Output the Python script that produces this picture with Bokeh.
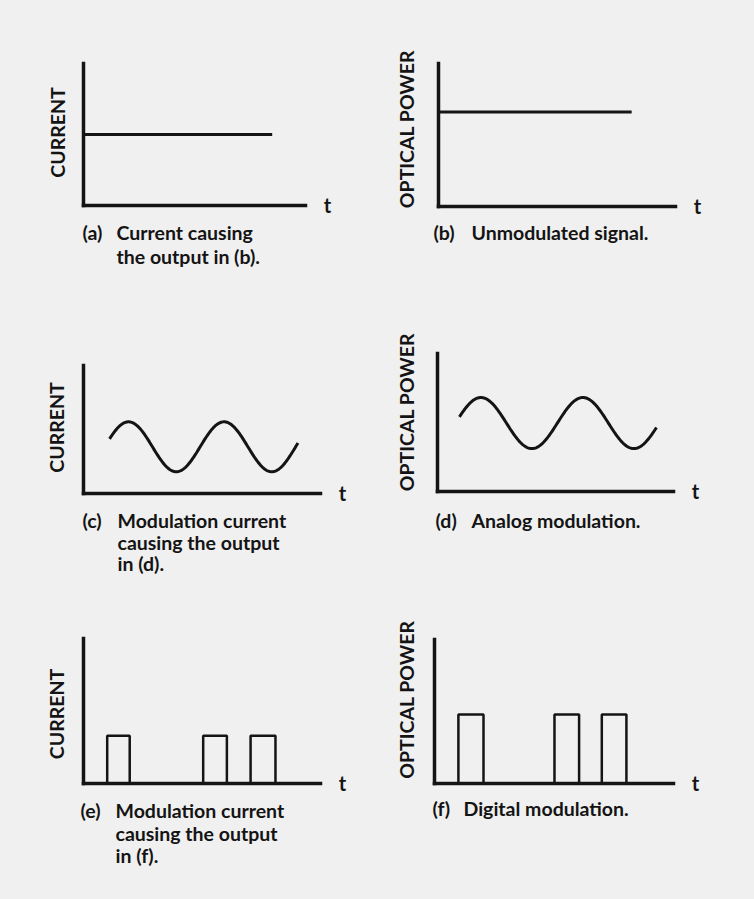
import numpy as np
from bokeh.plotting import figure
from bokeh.models import Range1d, Label
from bokeh.layouts import column, row
from bokeh.embed import file_html
from bokeh.resources import INLINE

# ---------------- data (every axis spans 0..10) ----------------
t_range = [0, 10]
level_range = [0, 10]

# (a) steady drive current, (b) unmodulated optical power
dc_current_t = [0.0, 8.5]
dc_current_level = [5.0, 5.0]
cw_power_t = [0.0, 8.15]
cw_power_level = [6.6, 6.6]

sine_c_offset, sine_c_amplitude, sine_c_period, sine_c_first_peak = 3.65, 1.95, 4.03, 1.9
sine_c_span = [1.1, 9.05]
sine_d_offset, sine_d_amplitude, sine_d_period, sine_d_first_peak = 4.96, 1.85, 4.32, 1.84
sine_d_span = [0.93, 9.28]

# (e) current pulses, (f) optical pulses
pulse_e_start = [1.0, 5.05, 7.05]
pulse_e_end = [1.95, 6.05, 8.1]
pulse_e_level = 3.3
pulse_f_start = [1.0, 5.02, 7.0]
pulse_f_end = [2.05, 6.05, 8.03]
pulse_f_level = 4.8

y_titles = ["CURRENT", "OPTICAL POWER", "CURRENT", "OPTICAL POWER", "CURRENT", "OPTICAL POWER"]
tags = ["(a)", "(b)", "(c)", "(d)", "(e)", "(f)"]
captions = [
    ["Current causing", "the output in (b)."],
    ["Unmodulated signal."],
    ["Modulation current", "causing the output", "in (d)."],
    ["Analog modulation."],
    ["Modulation current", "causing the output", "in (f)."],
    ["Digital modulation."],
]

# ---------------- styling / layout ----------------
BG = "#f0f0f0"
INK = "#141414"
FONT = "Lato"

# (left, frame_w, right, top, frame_h, bottom) in px
geom = [
    (83, 222, 72, 63, 142, 95),
    (61, 237, 79, 63, 143, 94),
    (83, 237, 57, 65, 128, 97),
    (60, 236, 81, 53, 138, 99),
    (83, 237, 57, 48, 145, 116),
    (57, 239, 81, 49, 144, 116),
]
# y-title: (x offset from axis, centre level)
ytitle_pos = [(-26, 5.14), (-32, 5.42), (-27, 5.16), (-31, 5.76), (-27, 4.79), (-28, 5.83)]
# caption: tag x offset, text x offset, line y offsets
cap_pos = [
    (-1, 33, [-27, -51]),
    (-5, 33, [-26]),
    (-1, 34, [-27, -49, -70]),
    (-2, 34, [-29]),
    (-3, 32, [-27, -50, -72]),
    (-2, 29, [-25]),
]


def txt(p, x, y, text, dx=0, dy=0, size="19.5px", angle=0.0, align="left"):
    p.add_layout(Label(x=x, y=y, x_offset=dx, y_offset=dy, text=text, angle=angle,
                       text_align=align, text_baseline="middle",
                       text_font=FONT, text_font_style="bold",
                       text_font_size=size, text_color=INK))


def make_panel(i):
    l, fw, r, t, fh, b = geom[i]
    sx = fw / (t_range[1] - t_range[0])
    sy = fh / (level_range[1] - level_range[0])
    p = figure(width=l + fw + r, height=t + fh + b,
               x_range=Range1d(t_range[0] - l / sx, t_range[1] + r / sx),
               y_range=Range1d(level_range[0] - b / sy, level_range[1] + t / sy),
               x_axis_type=None, y_axis_type=None,
               output_backend="svg", toolbar_location=None,
               min_border=0)
    p.background_fill_color = BG
    p.border_fill_color = BG
    p.outline_line_color = None
    p.grid.visible = False
    # axes (time axis and level axis)
    p.segment(x0=[t_range[0], t_range[0]], y0=[level_range[0], level_range[0]],
              x1=[t_range[0], t_range[1]], y1=[level_range[1], level_range[0]],
              line_width=3.5, line_color=INK, line_cap="square")
    # y title
    dx, cy = ytitle_pos[i]
    txt(p, t_range[0], cy, y_titles[i], dx=dx, size="19.5px", angle=np.pi / 2, align="center")
    # t label
    txt(p, t_range[1], level_range[0], "t", dx=22, dy=1, size="20px", align="center")
    # caption
    tx, cx, ys = cap_pos[i]
    txt(p, t_range[0], level_range[0], tags[i], dx=tx, dy=ys[0])
    for line, yo in zip(captions[i], ys):
        txt(p, t_range[0], level_range[0], line, dx=cx, dy=yo)
    return p


panels = [make_panel(i) for i in range(6)]
pa, pb, pc, pd, pe, pf = panels

pa.line(dc_current_t, dc_current_level, line_width=3, line_color=INK)
pb.line(cw_power_t, cw_power_level, line_width=3, line_color=INK)

tc = np.linspace(sine_c_span[0], sine_c_span[1], 300)
pc.line(tc, sine_c_offset + sine_c_amplitude * np.cos(2 * np.pi * (tc - sine_c_first_peak) / sine_c_period),
        line_width=3, line_color=INK, line_join="round")
td = np.linspace(sine_d_span[0], sine_d_span[1], 300)
pd.line(td, sine_d_offset + sine_d_amplitude * np.cos(2 * np.pi * (td - sine_d_first_peak) / sine_d_period),
        line_width=3, line_color=INK, line_join="round")

pe.quad(left=pulse_e_start, right=pulse_e_end, bottom=0, top=pulse_e_level,
        fill_color=None, line_color=INK, line_width=2.5)
pf.quad(left=pulse_f_start, right=pulse_f_end, bottom=0, top=pulse_f_level,
        fill_color=None, line_color=INK, line_width=2.5)

layout = column(row(pa, pb), row(pc, pd), row(pe, pf))
layout.spacing = 0

html = file_html(layout, INLINE, title="Modulation")
html = html.replace("<body>", '<body style="margin:0;background:%s;">' % BG)
open("out.html", "w").write(html)
